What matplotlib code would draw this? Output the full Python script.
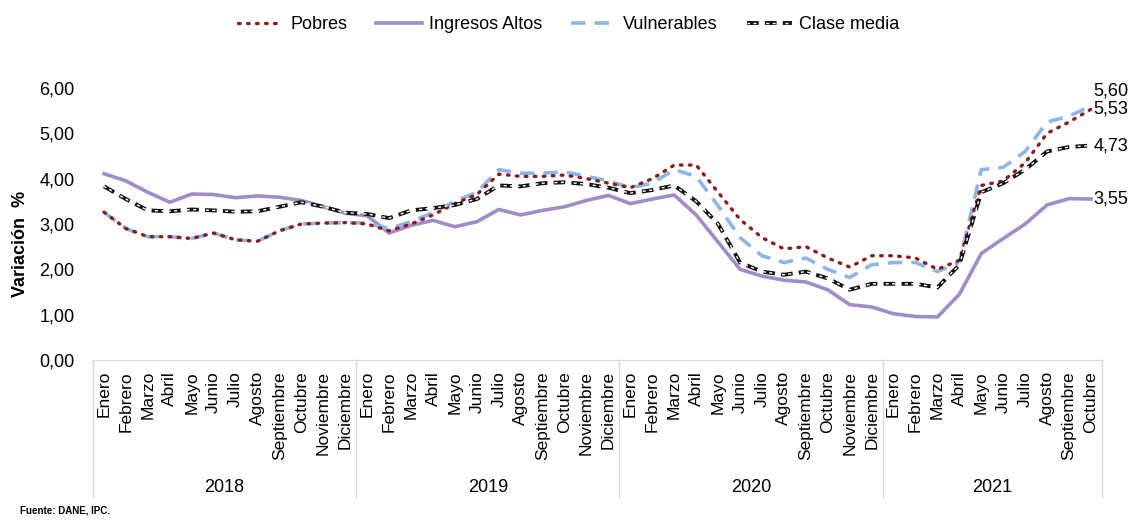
#!/usr/bin/env python3
"""Variación anual del IPC por grupo de ingreso, 2018-2021."""

import matplotlib
matplotlib.use("Agg")
import matplotlib.pyplot as plt
import matplotlib.transforms as mtransforms
import numpy as np
from matplotlib.legend_handler import HandlerTuple

plt.rcParams["font.family"] = ["Liberation Sans", "DejaVu Sans"]

YEARS = ["2018", "2019", "2020", "2021"]
MONTHS = ["Enero", "Febrero", "Marzo", "Abril", "Mayo", "Junio", "Julio",
          "Agosto", "Septiembre", "Octubre", "Noviembre", "Diciembre"]
MONTHS_PER_YEAR = [12, 12, 12, 10]

pobres = [
    3.26, 2.90, 2.72, 2.72, 2.68, 2.80, 2.65, 2.62, 2.85, 3.00, 3.02, 3.03,
    3.00, 2.85, 3.00, 3.20, 3.45, 3.65, 4.10, 4.05, 4.05, 4.08, 4.00, 3.90,
    3.80, 4.00, 4.30, 4.30, 3.70, 3.10, 2.70, 2.45, 2.50, 2.25, 2.05, 2.30,
    2.30, 2.25, 2.00, 2.20, 3.85, 3.95, 4.35, 5.00, 5.25, 5.53,
]
ingresos_altos = [
    4.11, 3.95, 3.70, 3.48, 3.66, 3.65, 3.58, 3.62, 3.59, 3.52, 3.38, 3.24,
    3.18, 2.80, 2.97, 3.08, 2.94, 3.05, 3.32, 3.20, 3.30, 3.38, 3.52, 3.63,
    3.45, 3.55, 3.64, 3.20, 2.60, 2.00, 1.85, 1.76, 1.72, 1.55, 1.22, 1.17,
    1.02, 0.96, 0.95, 1.45, 2.35, 2.68, 3.00, 3.42, 3.56, 3.55,
]
vulnerables = [
    3.26, 2.90, 2.72, 2.72, 2.68, 2.80, 2.65, 2.62, 2.85, 3.00, 3.02, 3.03,
    3.02, 2.90, 3.05, 3.25, 3.50, 3.70, 4.20, 4.12, 4.12, 4.15, 4.05, 3.95,
    3.80, 3.90, 4.20, 4.05, 3.40, 2.70, 2.30, 2.15, 2.25, 2.00, 1.82, 2.10,
    2.15, 2.15, 1.95, 2.15, 4.20, 4.25, 4.60, 5.25, 5.38, 5.60,
]
clase_media = [
    3.83, 3.55, 3.30, 3.28, 3.32, 3.30, 3.27, 3.28, 3.38, 3.48, 3.38, 3.25,
    3.22, 3.13, 3.30, 3.35, 3.42, 3.55, 3.85, 3.83, 3.90, 3.92, 3.88, 3.80,
    3.68, 3.75, 3.85, 3.50, 3.00, 2.15, 1.95, 1.88, 1.95, 1.80, 1.55, 1.68,
    1.68, 1.68, 1.60, 2.10, 3.70, 3.90, 4.20, 4.60, 4.70, 4.73,
]

Y_TICKS = [0, 1, 2, 3, 4, 5, 6]

GRID = "#d9d9d9"


def fmt_es(v: float) -> str:
    return f"{v:.2f}".replace(".", ",")


def main() -> None:
    labels = [m for n in MONTHS_PER_YEAR for m in MONTHS[:n]]
    x = np.arange(len(labels))

    fig = plt.figure(figsize=(11.33, 5.2), dpi=100)
    ax = fig.add_axes([0.0821, 0.3077, 0.8905, 0.5231])

    h_pob, = ax.plot(x, pobres, color="#8b1c1c", lw=2.4, ls=(0, (0.5, 2.2)),
                     dash_capstyle="round", zorder=3)
    h_alt, = ax.plot(x, ingresos_altos, color="#a18bc8", lw=2.6, zorder=2)
    h_vul, = ax.plot(x, vulnerables, color="#8db6e6", lw=2.6, ls=(0, (4, 2.5)),
                     zorder=2.5)
    # clase media: black dashes with a white core
    h_cm1, = ax.plot(x, clase_media, color="#111111", lw=2.8, ls=(0, (3, 1.6)),
                     zorder=4)
    h_cm2, = ax.plot(x, clase_media, color="white", lw=1.0,
                     ls=(0.3, (2.2, 2.4)), zorder=4.1)

    end_labels = [
        (vulnerables[-1], 0.33),
        (pobres[-1], 0.0),
        (clase_media[-1], 0.0),
        (ingresos_altos[-1], 0.0),
    ]
    for val, dy in end_labels:
        ax.text(x[-1] + 0.1, val + dy, fmt_es(val), fontsize=13,
                ha="left", va="center", clip_on=False)

    ax.set_xlim(-0.5, len(labels) - 0.5)
    ax.set_ylim(0, 6)
    ax.set_yticks(Y_TICKS)
    ax.set_yticklabels([fmt_es(v) for v in Y_TICKS], fontsize=13)
    ax.tick_params(axis="y", length=0, pad=13.5)
    ax.set_xticks([])
    for side in ("top", "right", "left"):
        ax.spines[side].set_visible(False)
    ax.spines["bottom"].set_color(GRID)

    fig.text(0.0185, 0.531, "Variación  %", rotation=90, fontsize=13,
             fontweight="bold", ha="center", va="center")

    trans = mtransforms.blended_transform_factory(ax.transData, ax.transAxes)
    for i, lab in enumerate(labels):
        ax.text(i, -0.04, lab, rotation=90, ha="center", va="top",
                fontsize=12.5, transform=trans)

    edges = np.concatenate([[0], np.cumsum(MONTHS_PER_YEAR)]) - 0.5
    for e in edges:
        ax.plot([e, e], [0, -0.505], color=GRID, lw=1.0, transform=trans,
                clip_on=False)
    for year, lo, hi in zip(YEARS, edges[:-1], edges[1:]):
        ax.text((lo + hi) / 2, -0.47, year, ha="center", va="center",
                fontsize=13, transform=trans)

    fig.legend(
        [h_pob, h_alt, h_vul, (h_cm1, h_cm2)],
        ["Pobres", "Ingresos Altos", "Vulnerables", "Clase media"],
        handler_map={tuple: HandlerTuple(ndivide=1, pad=0)},
        loc="upper center", bbox_to_anchor=(0.502, 1.0), ncol=4,
        frameon=False, fontsize=13, handlelength=2.5,
        columnspacing=1.6, handletextpad=0.4,
    )

    fig.text(0.018, 0.012, "Fuente: DANE, IPC.", fontsize=7, fontweight="bold")

    fig.savefig("out.png", dpi=100)
    plt.close(fig)


if __name__ == "__main__":
    main()
